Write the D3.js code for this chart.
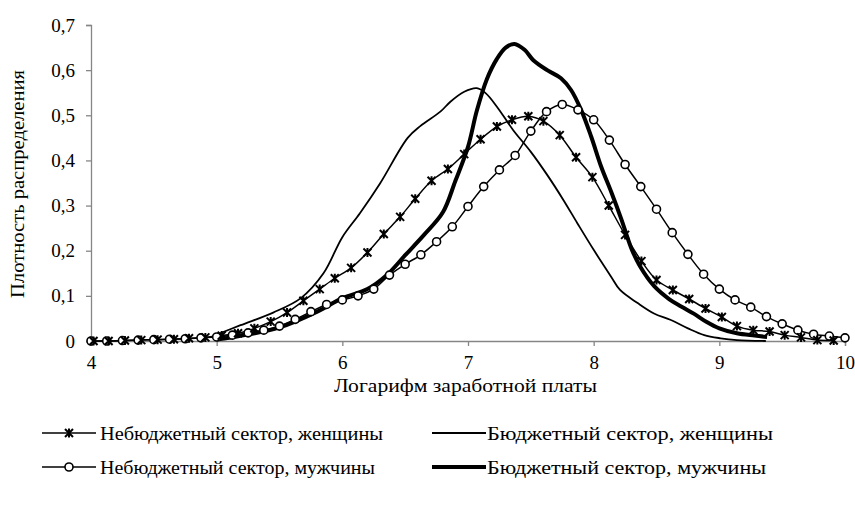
<!DOCTYPE html>
<html><head><meta charset="utf-8">
<script src="https://cdn.jsdelivr.net/npm/d3@7"></script>
<style>body{margin:0;background:#fff}svg{display:block}</style>
</head><body><svg id="c" width="855" height="506"></svg>
<script>
const xTicks = [4,5,6,7,8,9,10];
const yTicks = [0,0.1,0.2,0.3,0.4,0.5,0.6,0.7];
const yTickLabels = ["0","0,1","0,2","0,3","0,4","0,5","0,6","0,7"];
const seriesNames = ["Небюджетный сектор, женщины","Бюджетный сектор, женщины","Небюджетный сектор, мужчины","Бюджетный сектор, мужчины"];
const xTitle = "Логарифм заработной платы";
const yTitle = "Плотность распределения";

// Небюджетный сектор, женщины (asterisk markers)
const nbwX = [4.02,4.14,4.27,4.40,4.53,4.66,4.78,4.91,5.04,5.17,5.30,5.43,5.56,5.69,5.82,5.94,6.07,6.20,6.33,6.46,6.58,6.71,6.84,6.97,7.10,7.23,7.35,7.48,7.60,7.73,7.86,7.99,8.12,8.25,8.38,8.50,8.63,8.76,8.89,9.02,9.14,9.27,9.40,9.52,9.65,9.78,9.91];
const nbwY = [0.000,0.000,0.001,0.002,0.003,0.004,0.006,0.008,0.012,0.017,0.028,0.043,0.063,0.089,0.115,0.139,0.162,0.196,0.237,0.275,0.315,0.355,0.381,0.414,0.447,0.475,0.490,0.498,0.487,0.456,0.407,0.363,0.300,0.235,0.177,0.135,0.113,0.093,0.072,0.053,0.033,0.024,0.021,0.013,0.008,0.002,0.001];

// Бюджетный сектор, женщины (thin line)
const bwX = [4.99,5.19,5.45,5.67,5.85,6.00,6.14,6.30,6.52,6.62,6.78,6.86,6.97,7.07,7.14,7.23,7.36,7.50,7.63,7.76,7.87,8.00,8.14,8.21,8.35,8.48,8.61,8.75,8.88,9.01,9.14,9.37];
const bwY = [0.013,0.035,0.063,0.095,0.150,0.230,0.283,0.349,0.450,0.476,0.508,0.530,0.552,0.560,0.549,0.519,0.467,0.419,0.368,0.312,0.261,0.202,0.142,0.113,0.084,0.061,0.047,0.028,0.013,0.006,0.002,0.000];

// Небюджетный сектор, мужчины (circle markers)
const nbmX = [4.000,4.125,4.250,4.375,4.500,4.625,4.750,4.875,5.000,5.125,5.250,5.375,5.500,5.625,5.750,5.875,6.000,6.125,6.250,6.375,6.500,6.625,6.750,6.875,7.000,7.125,7.250,7.375,7.500,7.625,7.750,7.875,8.000,8.125,8.250,8.375,8.500,8.625,8.750,8.875,9.000,9.125,9.250,9.375,9.500,9.625,9.750,9.875,10.000];
const nbmY = [0.000,0.000,0.001,0.002,0.003,0.004,0.005,0.007,0.009,0.013,0.018,0.024,0.033,0.048,0.065,0.081,0.091,0.100,0.115,0.146,0.170,0.191,0.220,0.253,0.298,0.342,0.379,0.411,0.465,0.508,0.524,0.512,0.490,0.445,0.391,0.342,0.292,0.240,0.192,0.148,0.115,0.091,0.075,0.054,0.038,0.024,0.015,0.011,0.007];

// Бюджетный сектор, мужчины (thick line)
const bmX = [5.00,5.20,5.50,5.80,6.00,6.20,6.35,6.50,6.65,6.80,6.90,7.00,7.07,7.15,7.23,7.30,7.37,7.45,7.52,7.63,7.74,7.82,7.90,7.98,8.06,8.14,8.22,8.30,8.37,8.48,8.60,8.70,8.80,8.90,9.00,9.14,9.28,9.38];
const bmY = [0.003,0.012,0.030,0.065,0.095,0.115,0.145,0.190,0.235,0.285,0.355,0.430,0.510,0.580,0.625,0.650,0.658,0.645,0.622,0.600,0.582,0.556,0.512,0.453,0.386,0.330,0.270,0.205,0.165,0.122,0.093,0.076,0.060,0.042,0.028,0.017,0.012,0.009];

const svg = d3.select("#c");
const L=91, R=845, T=25, B=341;
const x = d3.scaleLinear().domain([4,10]).range([L,R]);
const y = d3.scaleLinear().domain([0,0.7]).range([B,T]);
const axisColor = "#868686";
const FONT = "'Liberation Serif'";

function fitText(sel, width){
  sel.attr("textLength", width).attr("lengthAdjust","spacingAndGlyphs");
  return sel;
}

const gx = svg.append("g").attr("transform",`translate(0,${B})`)
  .call(d3.axisBottom(x).tickValues(xTicks).tickSize(5).tickPadding(10).tickFormat(d=>String(d)));
const gy = svg.append("g").attr("transform",`translate(${L},0)`)
  .call(d3.axisLeft(y).tickValues(yTicks).tickSize(5).tickPadding(11).tickFormat((d,i)=>yTickLabels[i]));
[gx,gy].forEach(g=>{
  g.attr("font-family",FONT);
  g.select(".domain").attr("stroke",axisColor).attr("stroke-width",1.3);
  g.selectAll(".tick line").attr("stroke",axisColor).attr("stroke-width",1.3);
  g.selectAll("text").attr("fill","#000").style("font-family",FONT).style("font-size","19px");
});

fitText(svg.append("text").attr("x",465.5).attr("y",392).attr("text-anchor","middle")
  .style("font-family",FONT).style("font-size","18px").text(xTitle), 263);
fitText(svg.append("text").attr("transform",`translate(24,184) rotate(-90)`).attr("text-anchor","middle")
  .style("font-family",FONT).style("font-size","18px").text(yTitle), 228);

const line = (xs,ys,curve)=>d3.line().x(d=>x(d[0])).y(d=>y(d[1])).curve(curve)(xs.map((v,i)=>[v,ys[i]]));

const plot = svg.append("g");
plot.append("path").attr("d",line(bwX,bwY,d3.curveCatmullRom)).attr("fill","none").attr("stroke","#000").attr("stroke-width",1.8);
plot.append("path").attr("d",line(nbmX,nbmY,d3.curveCatmullRom)).attr("fill","none").attr("stroke","#000").attr("stroke-width",1.5);
plot.append("path").attr("d",line(nbwX,nbwY,d3.curveCatmullRom)).attr("fill","none").attr("stroke","#000").attr("stroke-width",1.5);
plot.append("path").attr("d",line(bmX,bmY,d3.curveCatmullRom)).attr("fill","none").attr("stroke","#000").attr("stroke-width",4);

function star(g,cx,cy){
  const s=4;
  g.append("path").attr("d",`M${cx-s},${cy-s}L${cx+s},${cy+s}M${cx-s},${cy+s}L${cx+s},${cy-s}M${cx},${cy-s-0.5}L${cx},${cy+s+0.5}`)
   .attr("stroke","#000").attr("stroke-width",2).attr("fill","none");
}
function circ(g,cx,cy){
  g.append("circle").attr("cx",cx).attr("cy",cy).attr("r",4).attr("fill","#fff").attr("stroke","#000").attr("stroke-width",1.6);
}
nbmX.forEach((v,i)=>circ(plot,x(v),y(nbmY[i])));
nbwX.forEach((v,i)=>star(plot,x(v),y(nbwY[i])));

const leg = svg.append("g");
const rows=[433,467], cols=[[42,96,100],[432,486,487]];
const legWidths=[283,286,275,279];
const legSpec=[{r:0,c:0,w:1.5,m:"star"},{r:0,c:1,w:1.8,m:null},{r:1,c:0,w:1.5,m:"circ"},{r:1,c:1,w:4,m:null}];
legSpec.forEach((s,i)=>{
  const yy=rows[s.r], [x0,x1,tx]=cols[s.c];
  leg.append("line").attr("x1",x0).attr("x2",x1).attr("y1",yy).attr("y2",yy).attr("stroke","#000").attr("stroke-width",s.w);
  if(s.m==="star") star(leg,(x0+x1)/2,yy);
  if(s.m==="circ") circ(leg,(x0+x1)/2,yy);
  fitText(leg.append("text").attr("x",tx).attr("y",yy+6.5)
    .style("font-family",FONT).style("font-size","19px").text(seriesNames[i]), legWidths[i]);
});
</script></body></html>
